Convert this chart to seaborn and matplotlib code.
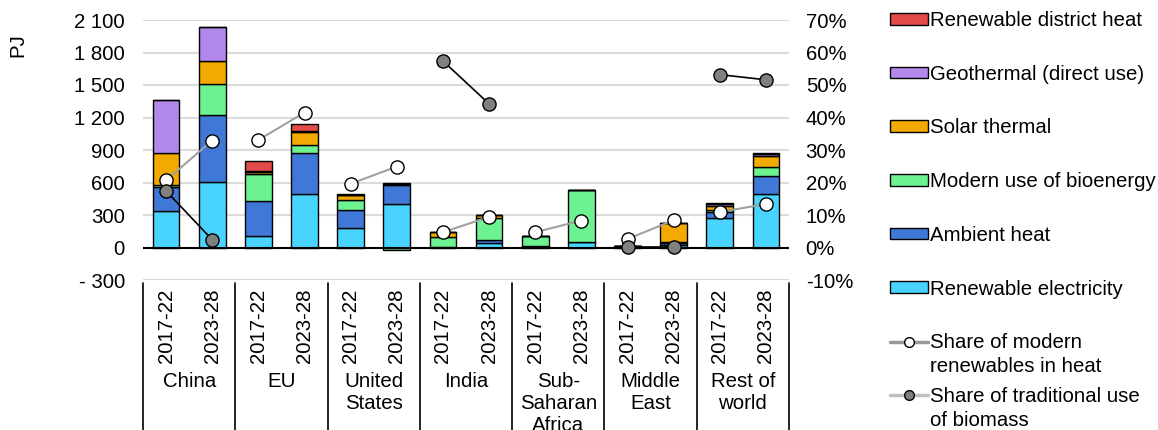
import numpy as np
import pandas as pd
import matplotlib
matplotlib.use("Agg")
import matplotlib.pyplot as plt
import matplotlib.transforms as mtransforms
from matplotlib.patches import Patch
from matplotlib.lines import Line2D
from matplotlib.ticker import FuncFormatter
import seaborn as sns

# regions / periods
regions = ["China", "EU", "United\nStates", "India", "Sub-\nSaharan\nAfrica", "Middle\nEast", "Rest of\nworld"]
periods = ["2017-22", "2023-28"]

# PJ, order: China 17-22, China 23-28, EU 17-22, ...
elec     = [340, 605, 105, 490, 180, 405, 5, 40, 10, 50, 5, 25, 275, 495]
ambient  = [215, 620, 320, 380, 165, 170, 0, 30, 0, 0, 5, 20, 50, 165]
bio      = [20, 285, 255, 75, 95, -25, 95, 200, 95, 480, 0, 5, 20, 80]
solar    = [295, 215, 20, 120, 45, 10, 45, 30, 0, 5, 5, 180, 40, 105]
geo      = [495, 310, 5, 15, 0, 5, 0, 0, 0, 0, 0, 0, 15, 15]
district = [0, 0, 95, 60, 5, 10, 0, 0, 0, 0, 0, 0, 10, 15]

# shares in %
share_modern = [20.7, 32.9, 33.1, 41.5, 19.6, 24.9, 4.7, 9.4, 4.7, 8.3, 2.6, 8.4, 10.9, 13.4]
share_trad   = [17.4, 2.4, np.nan, np.nan, np.nan, np.nan, 57.4, 44.2, np.nan, np.nan, 0.3, 0.3, 53.2, 51.6]

layers = [
    ("Renewable electricity", elec, "#48D4FF"),
    ("Ambient heat", ambient, "#3F78D6"),
    ("Modern use of bioenergy", bio, "#6DF292"),
    ("Solar thermal", solar, "#F2A900"),
    ("Geothermal (direct use)", geo, "#B388EB"),
    ("Renewable district heat", district, "#E34A4A"),
]
line_labels = [("Share of modern", "renewables in heat"),
               ("Share of traditional use", "of biomass")]

FS = 14.7
W, H = 1158, 430

sns.set_style("white")
plt.rcParams["font.family"] = ["Liberation Sans", "DejaVu Sans"]
plt.rcParams["font.size"] = FS
plt.rcParams["text.color"] = "black"
plt.rcParams["xtick.color"] = "black"
plt.rcParams["ytick.color"] = "black"

xlab = [f"{r}|{p}" for r in regions for p in periods]

fig = plt.figure(figsize=(W / 100, H / 100), dpi=100)
ax = fig.add_axes([143 / W, 1 - 280 / H, 646 / W, 260 / H])

pos_base = np.zeros(len(xlab))
neg_base = np.zeros(len(xlab))
for name, vals, col in layers:
    v = np.array(vals, dtype=float)
    bottom = np.where(v >= 0, pos_base, neg_base)
    df = pd.DataFrame({"x": xlab, "y": v})
    sns.barplot(data=df, x="x", y="y", order=xlab, bottom=bottom, color=col,
                saturation=1, width=0.58, edgecolor="black", linewidth=1,
                errorbar=None, ax=ax, zorder=3)
    pos_base = pos_base + np.where(v >= 0, v, 0)
    neg_base = neg_base + np.where(v < 0, v, 0)

ax.set_xlim(-0.5, len(xlab) - 0.5)
ax.set_ylim(-300, 2100)
ax.set_yticks(np.arange(-300, 2101, 300))
ax.yaxis.set_major_formatter(FuncFormatter(
    lambda v, p: ("- " if v < 0 else "") + f"{abs(v):,.0f}".replace(",", " ")))
ax.yaxis.grid(True, color="#dcdcdc", linewidth=1.5, zorder=0)
ax.set_axisbelow(True)
ax.axhline(0, color="black", linewidth=1.5, zorder=4)
ax.set_xticks(range(len(xlab)))
ax.set_xticklabels([p for r in regions for p in periods], rotation=90)
ax.tick_params(axis="x", length=0, pad=6, labelsize=FS)
ax.tick_params(axis="y", length=0, pad=13, labelsize=FS)
ax.set_xlabel("")
ax.set_ylabel("")
for s in ax.spines.values():
    s.set_visible(False)

# region names and separators below the axis
trans = mtransforms.blended_transform_factory(ax.transData, ax.transAxes)
for i, r in enumerate(regions):
    ax.text(2 * i + 0.5, -(372 - 280) / 260, r, transform=trans, ha="center", va="top",
            fontsize=FS, linespacing=1.2)
for k in range(len(regions) + 1):
    ax.plot([2 * k - 0.5, 2 * k - 0.5], [-0.01, -0.7], transform=trans, color="black",
            linewidth=1.2, clip_on=False)

# share lines on right axis
ax2 = ax.twinx()
ax2.set_ylim(-10, 70)
ax2.set_yticks(np.arange(-10, 71, 10))
ax2.yaxis.set_major_formatter(FuncFormatter(lambda v, p: f"{v:.0f}%"))
ax2.tick_params(axis="y", length=0, pad=12, labelsize=FS)
for s in ax2.spines.values():
    s.set_visible(False)
for i in range(len(regions)):
    xs = [2 * i, 2 * i + 1]
    ax2.plot(xs, share_modern[2 * i:2 * i + 2], color="#a0a0a0", linewidth=1.5,
             marker="o", markersize=9.5, markerfacecolor="white",
             markeredgecolor="black", markeredgewidth=1, zorder=5)
    ax2.plot(xs, share_trad[2 * i:2 * i + 2], color="black", linewidth=1.2,
             marker="o", markersize=9.5, markerfacecolor="#808080",
             markeredgecolor="black", markeredgewidth=1, zorder=6)

fig.text(18 / W, 1 - 45 / H, "PJ", rotation=90, ha="center", va="center", fontsize=FS)

handles = [Patch(facecolor=c, edgecolor="black", linewidth=1, label=n) for n, _, c in layers[::-1]]
handles += [
    Line2D([], [], color="#999999", linewidth=2.5, marker="o", markersize=7,
           markerfacecolor="white", markeredgecolor="black", label=line_labels[0][0]),
    Line2D([], [], color="#c0c0c0", linewidth=2.5, marker="o", markersize=7,
           markerfacecolor="#808080", markeredgecolor="black", label=line_labels[1][0]),
]
leg = fig.legend(handles=handles, loc="upper left", bbox_to_anchor=(890 / W, 1 - 11 / H),
                 frameon=False, fontsize=FS, handlelength=1.86, handleheight=0.5,
                 handletextpad=0.12, labelspacing=1.7, borderaxespad=0, borderpad=0)

# second line of the two-line legend labels, hanging under the first line
fig.canvas.draw()
for t, (_, second) in zip(leg.get_texts()[-2:], line_labels):
    bb = t.get_window_extent()
    fig.text(bb.x0 / W, (bb.y0 + bb.y1) / 2 / H - 22 / H, second,
             ha="left", va="center_baseline", fontsize=FS)

fig.savefig("out.png", dpi=100)
